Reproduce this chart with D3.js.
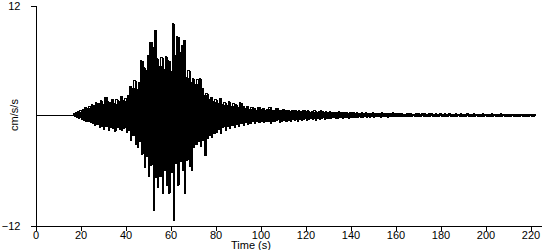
<!DOCTYPE html>
<html>
<head>
<meta charset="utf-8">
<script src="https://cdn.jsdelivr.net/npm/d3@7"></script>
<style>
  body { margin: 0; background: #fff; }
  svg { display: block; }
  text { font-family: Arial, "Liberation Sans", sans-serif; }
</style>
</head>
<body>
<div id="chart"></div>
<script>
// Акселерограмма: огибающая пиков, по одному отсчёту на секунду (t = 0..222 с)
const xTicks = [0, 20, 40, 60, 80, 100, 120, 140, 160, 180, 200, 220];
const yTicks = [-12, 12];

// верхние пики, см/с/с
const peakMax = [
  0.05, 0.05, 0.05, 0.05, 0.05, 0.05, 0.05, 0.05, 0.05, 0.05,
  0.05, 0.05, 0.05, 0.05, 0.05, 0.05, 0.05, 0.2, 0.3, 0.4,
  0.6, 0.7, 0.9, 0.8, 1.0, 1.2, 1.1, 1.4, 1.3, 1.6,
  1.2, 2.0, 1.5, 1.4, 1.8, 1.3, 1.7, 1.5, 2.1, 1.6,
  1.9, 2.2, 3.2, 3.0, 3.8, 2.8, 3.6, 6.0, 5.2, 4.9,
  6.5, 8.0, 7.4, 9.3, 6.2, 5.4, 6.3, 5.0, 6.4, 6.0,
  4.8, 10.0, 6.5, 8.6, 6.9, 7.6, 8.2, 4.1, 4.9, 3.6,
  4.0, 3.4, 3.9, 4.0, 3.0, 2.2, 2.4, 1.8, 2.0, 1.5,
  1.7, 1.3, 1.9, 1.2, 1.4, 1.1, 1.5, 1.0, 1.3, 1.2,
  0.9, 1.4, 1.0, 0.8, 1.0, 0.7, 0.9, 0.8, 0.6, 0.9,
  0.7, 0.8, 0.6, 0.7, 0.9, 0.5, 0.6, 0.8, 0.5, 0.6,
  0.7, 0.5, 0.6, 0.4, 0.5, 0.6, 0.4, 0.5, 0.4, 0.6,
  0.4, 0.5, 0.3, 0.4, 0.5, 0.3, 0.4, 0.5, 0.3, 0.4,
  0.3, 0.4, 0.3, 0.35, 0.3, 0.4, 0.3, 0.3, 0.35, 0.25,
  0.3, 0.35, 0.25, 0.3, 0.25, 0.3, 0.2, 0.3, 0.25, 0.2,
  0.3, 0.2, 0.25, 0.2, 0.3, 0.2, 0.25, 0.2, 0.2, 0.3,
  0.2, 0.25, 0.2, 0.2, 0.15, 0.25, 0.2, 0.2, 0.15, 0.2,
  0.25, 0.15, 0.2, 0.2, 0.15, 0.2, 0.2, 0.15, 0.2, 0.15,
  0.2, 0.15, 0.2, 0.15, 0.2, 0.15, 0.15, 0.2, 0.15, 0.2,
  0.15, 0.15, 0.2, 0.15, 0.15, 0.2, 0.15, 0.15, 0.15, 0.2,
  0.15, 0.15, 0.15, 0.2, 0.15, 0.15, 0.15, 0.2, 0.15, 0.15,
  0.15, 0.15, 0.15, 0.15, 0.15, 0.15, 0.15, 0.15, 0.15, 0.15,
  0.15, 0.15, 0.1
];

// нижние пики, см/с/с
const peakMin = [
  -0.05, -0.05, -0.05, -0.05, -0.05, -0.05, -0.05, -0.05, -0.05, -0.05,
  -0.05, -0.05, -0.05, -0.05, -0.05, -0.05, -0.05, -0.1, -0.2, -0.3,
  -0.4, -0.5, -0.6, -0.7, -0.8, -0.9, -1.1, -1.0, -1.3, -1.2,
  -1.5, -1.2, -1.6, -1.3, -1.4, -1.7, -1.3, -1.5, -1.6, -1.4,
  -1.8, -1.6, -2.7, -2.2, -3.2, -3.5, -2.8, -4.2, -5.7, -4.5,
  -6.7, -5.4, -10.4, -6.8, -7.8, -6.7, -8.5, -6.0, -7.6, -8.5,
  -6.2, -11.4, -5.2, -7.6, -5.0, -6.0, -8.5, -4.9, -5.6, -6.0,
  -3.5, -3.2, -2.8, -3.4, -2.7, -4.4, -2.5, -2.2, -2.4, -2.0,
  -1.8, -1.5, -2.0, -1.3, -1.6, -1.2, -1.4, -1.1, -1.3, -1.0,
  -1.2, -0.9, -1.1, -0.8, -1.0, -0.9, -0.7, -0.9, -0.6, -0.8,
  -0.7, -0.8, -0.6, -0.7, -0.9, -0.6, -0.7, -0.5, -0.8, -0.6,
  -0.5, -0.7, -0.5, -0.6, -0.4, -0.5, -0.6, -0.4, -0.5, -0.4,
  -0.5, -0.4, -0.3, -0.4, -0.5, -0.3, -0.4, -0.3, -0.4, -0.3,
  -0.35, -0.3, -0.25, -0.3, -0.3, -0.25, -0.3, -0.2, -0.25, -0.3,
  -0.2, -0.25, -0.2, -0.2, -0.25, -0.2, -0.15, -0.2, -0.2, -0.15,
  -0.2, -0.15, -0.15, -0.2, -0.15, -0.15, -0.2, -0.1, -0.15, -0.15,
  -0.1, -0.15, -0.1, -0.15, -0.1, -0.1, -0.15, -0.1, -0.1, -0.15,
  -0.1, -0.1, -0.1, -0.15, -0.1, -0.1, -0.1, -0.1, -0.1, -0.1,
  -0.1, -0.1, -0.1, -0.1, -0.1, -0.1, -0.1, -0.1, -0.1, -0.1,
  -0.1, -0.1, -0.1, -0.1, -0.1, -0.1, -0.1, -0.1, -0.1, -0.1,
  -0.1, -0.1, -0.1, -0.1, -0.1, -0.1, -0.1, -0.1, -0.1, -0.1,
  -0.1, -0.1, -0.1, -0.1, -0.1, -0.1, -0.1, -0.1, -0.1, -0.1,
  -0.1, -0.1, -0.05
];

const width = 550;
const height = 250;

const svg = d3.select("#chart")
  .append("svg")
  .attr("width", width)
  .attr("height", height);

// Шкалы: 0 с -> x=35, 2.25 px на секунду; ±12 -> y 225..5
const x = d3.scaleLinear().domain([0, 225]).range([35.5, 541.75]);
const y = d3.scaleLinear().domain([-12, 12]).range([225.5, 5.5]);

const samples = peakMax.map((v, i) => ({ t: i, hi: v, lo: peakMin[i] }));

// Заливка между пиками каждой секунды (плотная часть записи)
const band = d3.area()
  .curve(d3.curveStepAfter)
  .x(d => x(d.t))
  .y0(d => y(d.lo))
  .y1(d => y(d.hi));

svg.append("path")
  .datum(samples)
  .attr("d", band)
  .attr("fill", "#000")
  .attr("shape-rendering", "crispEdges");

// Трасса поверх: колебание между верхним и нижним пиком
const trace = [];
samples.forEach(d => {
  trace.push({ t: d.t, v: d.hi });
  trace.push({ t: d.t + 0.5, v: d.lo });
});

const line = d3.line()
  .curve(d3.curveStep)
  .x(d => x(d.t))
  .y(d => y(d.v));

svg.append("path")
  .datum(trace)
  .attr("d", line)
  .attr("fill", "none")
  .attr("stroke", "#000")
  .attr("stroke-width", 1)
  .attr("shape-rendering", "crispEdges");

// Ось X
svg.append("g")
  .attr("transform", `translate(0, ${y(-12)})`)
  .call(d3.axisBottom(x).tickValues(xTicks).tickSize(5).tickSizeOuter(0).tickPadding(1));

// Ось Y
svg.append("g")
  .attr("transform", `translate(${x(0)}, 0)`)
  .call(d3.axisLeft(y).tickValues(yTicks).tickSize(5).tickSizeOuter(0).tickPadding(10));

svg.selectAll(".domain, .tick line")
  .attr("stroke", "#000")
  .attr("shape-rendering", "crispEdges");

svg.selectAll(".tick text")
  .attr("font-family", "Arial, 'Liberation Sans', sans-serif")
  .attr("font-size", "11px")
  .attr("fill", "#000");

// Подписи осей
svg.append("text")
  .attr("x", 251)
  .attr("y", 249)
  .attr("text-anchor", "middle")
  .attr("font-size", "11px")
  .text("Time (s)");

svg.append("text")
  .attr("transform", "translate(18, 115) rotate(-90)")
  .attr("text-anchor", "middle")
  .attr("font-size", "11px")
  .text("cm/s/s");
</script>
</body>
</html>
